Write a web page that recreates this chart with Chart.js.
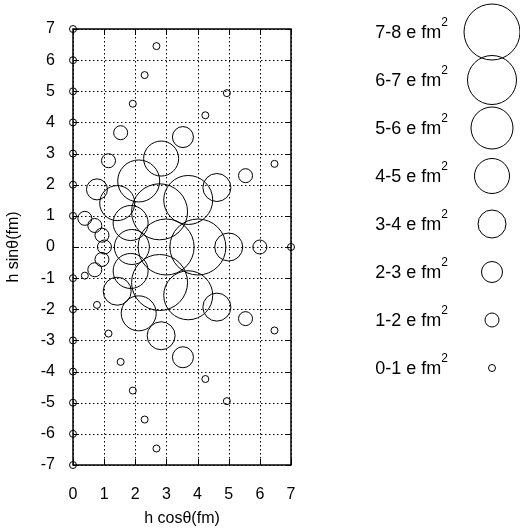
<!DOCTYPE html>
<html>
<head>
<meta charset="utf-8">
<script src="https://cdn.jsdelivr.net/npm/chart.js@4.4.0/dist/chart.umd.min.js"></script>
<style>
  body { margin: 0; background: #fff; }
  #wrap { position: relative; width: 520px; height: 532px; }
  #main { position: absolute; left: 0; top: 0; }
  #leg { position: absolute; left: 331px; top: 3px; }
</style>
</head>
<body>
<div id="wrap">
  <canvas id="main" width="320" height="532"></canvas>
  <canvas id="leg" width="190" height="394"></canvas>
</div>
<script>
// bubble positions (h cos, h sin) and charge class (0 = 0-1, 7 = 7-8 e fm^2)
const xs = [0, 0, 0, 0, 0, 0, 0,
    2.68, 2.30, 4.94, 1.92, 4.25, 1.53, 3.53, 1.14, 2.83, 6.47, 2.11, 5.54, 0.77, 4.62, 1.42, 3.70, 2.78, 1.85, 0.38, 0.70, 0.93,
    1.01, 1.89, 2.99, 4.01, 5.00, 6.00, 7.00,
    0.93, 0.70, 0.38, 1.85, 2.78, 1.42, 3.70, 0.77, 4.62, 2.11, 5.54, 6.47, 1.14, 2.83, 3.53, 1.53, 4.25, 1.92, 4.94, 2.30, 2.68,
    0, 0, 0, 0, 0, 0, 0];
const ys = [7, 6, 5, 4, 3, 2, 1,
    6.45, 5.52, 4.94, 4.60, 4.23, 3.67, 3.53, 2.77, 2.84, 2.67, 2.12, 2.29, 1.85, 1.91, 1.41, 1.51, 1.13, 0.77, 0.92, 0.69, 0.38,
    0, 0, 0, 0, 0, 0, 0,
    -0.40, -0.73, -0.92, -0.77, -1.14, -1.42, -1.55, -1.86, -1.93, -2.13, -2.30, -2.68, -2.78, -2.85, -3.54, -3.69, -4.24, -4.61, -4.95, -5.54, -6.47,
    -1, -2, -3, -4, -5, -6, -7];
const cls = [0, 0, 0, 0, 0, 0, 0,
    0, 0, 0, 0, 0, 1, 2, 1, 4, 0, 5, 1, 2, 3, 4, 6, 7, 4, 1, 1, 1,
    1, 4, 7, 7, 3, 1, 0,
    1, 1, 0, 4, 7, 3, 6, 0, 3, 4, 1, 0, 0, 3, 2, 0, 0, 0, 0, 0, 0,
    0, 0, 0, 0, 0, 0, 0];
const legendLabels = ['7-8 e fm²', '6-7 e fm²', '5-6 e fm²', '4-5 e fm²', '3-4 e fm²', '2-3 e fm²', '1-2 e fm²', '0-1 e fm²'];
const legendClasses = [7, 6, 5, 4, 3, 2, 1, 0];
const xTicks = [0, 1, 2, 3, 4, 5, 6, 7];

const radius = c => 3.5 * (c + 1);
const font = { family: 'Liberation Sans, Arial', size: 16 };

// dotted grid, inward tick marks and the frame
const gridPlugin = {
    id: 'dotGrid',
    beforeDatasetsDraw(chart) {
        const a = chart.chartArea, ctx = chart.ctx;
        const sx = chart.scales.x, sy = chart.scales.y;
        ctx.save();
        ctx.strokeStyle = '#000';
        ctx.lineWidth = 1;
        ctx.setLineDash([1.5, 2.5]);
        sx.ticks.forEach(t => {
            const x = Math.round(sx.getPixelForValue(t.value)) + 0.5;
            ctx.beginPath(); ctx.moveTo(x, a.top); ctx.lineTo(x, a.bottom); ctx.stroke();
        });
        sy.ticks.forEach(t => {
            const y = Math.round(sy.getPixelForValue(t.value)) + 0.5;
            ctx.beginPath(); ctx.moveTo(a.left, y); ctx.lineTo(a.right, y); ctx.stroke();
        });
        ctx.setLineDash([]);
        sx.ticks.forEach(t => {
            const x = Math.round(sx.getPixelForValue(t.value)) + 0.5;
            ctx.beginPath();
            ctx.moveTo(x, a.bottom); ctx.lineTo(x, a.bottom - 6);
            ctx.moveTo(x, a.top); ctx.lineTo(x, a.top + 6);
            ctx.stroke();
        });
        sy.ticks.forEach(t => {
            const y = Math.round(sy.getPixelForValue(t.value)) + 0.5;
            ctx.beginPath();
            ctx.moveTo(a.left, y); ctx.lineTo(a.left + 6, y);
            ctx.moveTo(a.right, y); ctx.lineTo(a.right - 6, y);
            ctx.stroke();
        });
        ctx.lineWidth = 1.5;
        ctx.strokeRect(a.left, a.top, a.right - a.left, a.bottom - a.top);
        ctx.restore();
    }
};

new Chart(document.getElementById('main'), {
    type: 'bubble',
    data: {
        datasets: [{
            data: xs.map((x, i) => ({ x: x, y: ys[i], r: radius(cls[i]) })),
            borderColor: '#000',
            backgroundColor: 'rgba(0,0,0,0)',
            borderWidth: 1,
            clip: false
        }]
    },
    options: {
        responsive: false,
        animation: false,
        layout: { padding: { top: 8, right: 19, left: 0, bottom: 0 } },
        plugins: { legend: { display: false }, tooltip: { enabled: false } },
        elements: { point: { hoverRadius: 0 } },
        scales: {
            x: {
                type: 'linear', min: 0, max: 7,
                afterBuildTicks: s => { s.ticks = xTicks.map(v => ({ value: v })); },
                grid: { display: false },
                border: { display: false },
                ticks: { color: '#000', font: font, padding: 12 },
                title: { display: true, text: 'h cosθ(fm)', color: '#000', font: font, padding: { top: 6 } },
                afterFit: s => { s.height = 67; }
            },
            y: {
                type: 'linear', min: -7, max: 7,
                ticks: { stepSize: 1, color: '#000', font: font, padding: 10 },
                grid: { display: false },
                border: { display: false },
                title: { display: true, text: 'h sinθ(fm)', color: '#000', font: font },
                afterFit: s => { s.width = 73; }
            }
        }
    },
    plugins: [gridPlugin]
});

const legendText = {
    id: 'legendText',
    afterDraw(chart) {
        const ctx = chart.ctx, sy = chart.scales.y, sx = chart.scales.x;
        ctx.save();
        ctx.fillStyle = '#000';
        ctx.textAlign = 'right';
        ctx.textBaseline = 'middle';
        legendLabels.forEach((t, i) => {
            const base = t.slice(0, -1);
            const y = sy.getPixelForValue(i);
            const x = sx.getPixelForValue(1) - 44;
            ctx.font = '12px Liberation Sans, Arial';
            ctx.fillText('2', x, y - 9);
            const w = ctx.measureText('2').width;
            ctx.font = '18px Liberation Sans, Arial';
            ctx.fillText(base, x - w, y + 1);
        });
        ctx.restore();
    }
};

new Chart(document.getElementById('leg'), {
    type: 'bubble',
    data: {
        datasets: [{
            data: legendClasses.map((c, i) => ({ x: 1, y: i, r: radius(c) })),
            borderColor: '#000',
            backgroundColor: 'rgba(0,0,0,0)',
            borderWidth: 1,
            clip: false
        }]
    },
    options: {
        responsive: false,
        animation: false,
        layout: { padding: 0 },
        plugins: { legend: { display: false }, tooltip: { enabled: false } },
        scales: {
            x: { type: 'linear', display: false, min: 0, max: 1 },
            y: { type: 'linear', display: false, reverse: true, min: 0, max: 7 }
        }
    },
    plugins: [legendText]
});
</script>
</body>
</html>
